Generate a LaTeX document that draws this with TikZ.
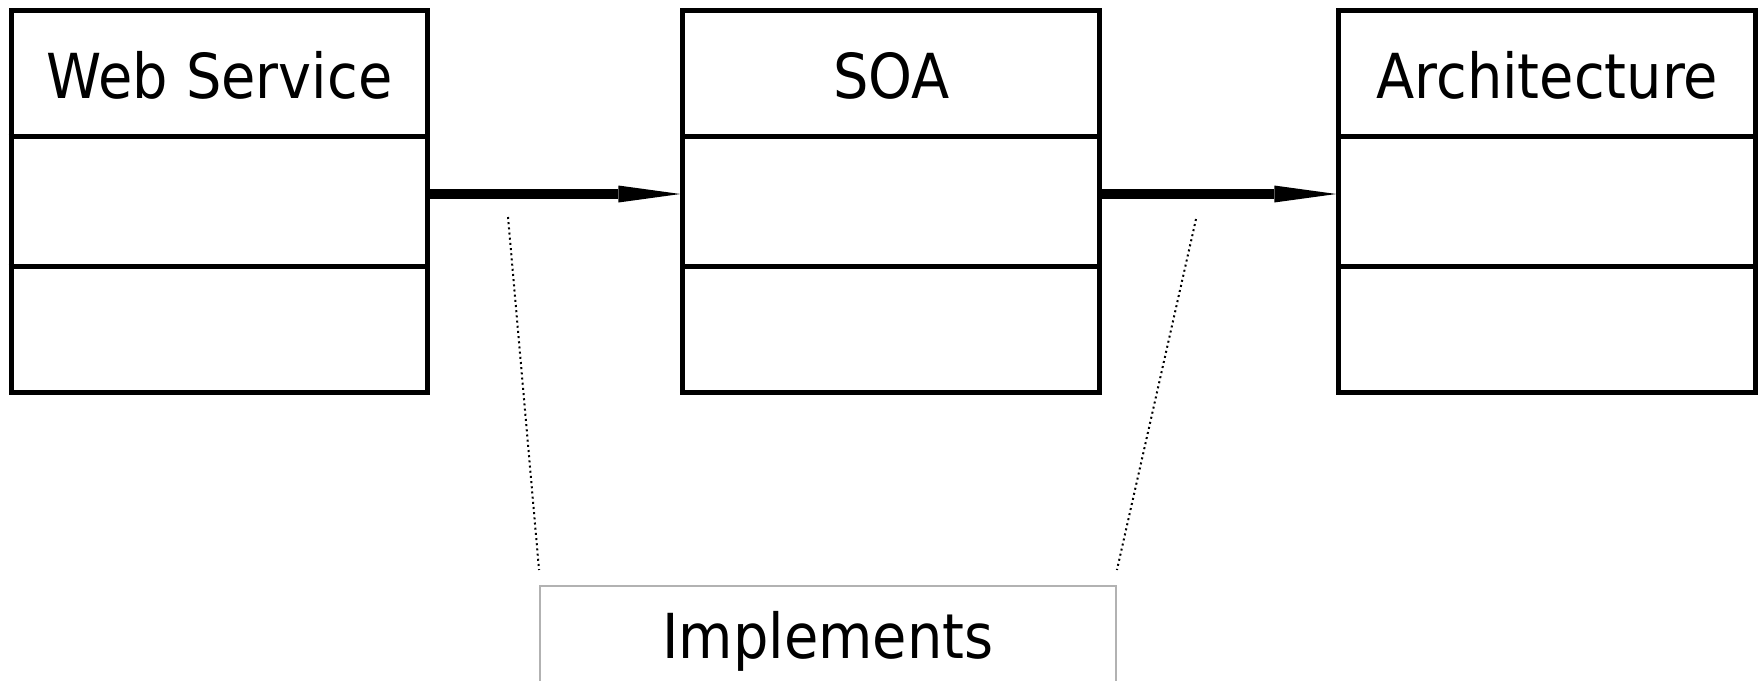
\documentclass[tikz,border=0pt]{standalone}
\usepackage{fontspec}
\setmainfont{DejaVu Sans}[FakeStretch=0.9]
\usepackage{tikz}
\usetikzlibrary{arrows.meta, positioning, calc}
\definecolor{notegray}{HTML}{B2B2B2}
\definecolor{darktext}{HTML}{000000}

\begin{document}
\begin{tikzpicture}[
    x=0.02cm, y=-0.02cm,
    classbox/.style={rectangle, draw=darktext, line width=0.1cm, inner sep=0pt,
                     minimum width=8.34cm, minimum height=7.66cm},
    classline/.style={draw=darktext, line width=0.1cm},
    classname/.style={anchor=base, inner sep=0pt, text=darktext,
                      font=\fontsize{35.3}{42}\selectfont},
    assoc/.style={-{Triangle[length=1.24cm, width=0.34cm, line width=0pt]}, line width=0.2cm, color=darktext},
    notebox/.style={rectangle, draw=notegray, line width=0.04cm, inner sep=0pt,
                    minimum width=11.52cm, text height=1.46cm, text depth=0.54cm,
                    font=\fontsize{35.3}{42}\selectfont},
    note/.style={line width=0.04cm, dash pattern=on 0.04cm off 0.064cm, color=darktext}
]
\useasboundingbox (0,0) rectangle (1758,680);

% Classes
\node[classbox] (ws) at (219.5,201.5) {};
\node[classbox, right=5cm of ws] (soa) {};
\node[classbox, right=4.68cm of soa] (arch) {};

% Compartments and names
\foreach \cls/\name in {ws/Web Service, soa/SOA, arch/Architecture} {
    \draw[classline] ($(\cls.north west)!1/3!(\cls.south west)$) -- ($(\cls.north east)!1/3!(\cls.south east)$);
    \draw[classline] ($(\cls.north west)!2/3!(\cls.south west)$) -- ($(\cls.north east)!2/3!(\cls.south east)$);
    \node[classname] (\cls-name) at ($(\cls.north)+(0,90.5)$) {\name};
}

% Associations
\draw[assoc] ($(ws.east)+(0,-7.5)$) -- ($(soa.west)+(0,-7.5)$);
\draw[assoc] ($(soa.east)+(0,-7.5)$) -- ($(arch.west)+(0,-7.5)$);

% Association class
\node[notebox, anchor=north] (impl) at (828,585) {Implements};
\coordinate (ws-soa) at (508,217);
\coordinate (soa-arch) at (1196,219);
\draw[note] (ws-soa) -- ($(impl.north west)+(0,-15)$);
\draw[note] (soa-arch) -- ($(impl.north east)+(0,-15)$);

\end{tikzpicture}
\end{document}
